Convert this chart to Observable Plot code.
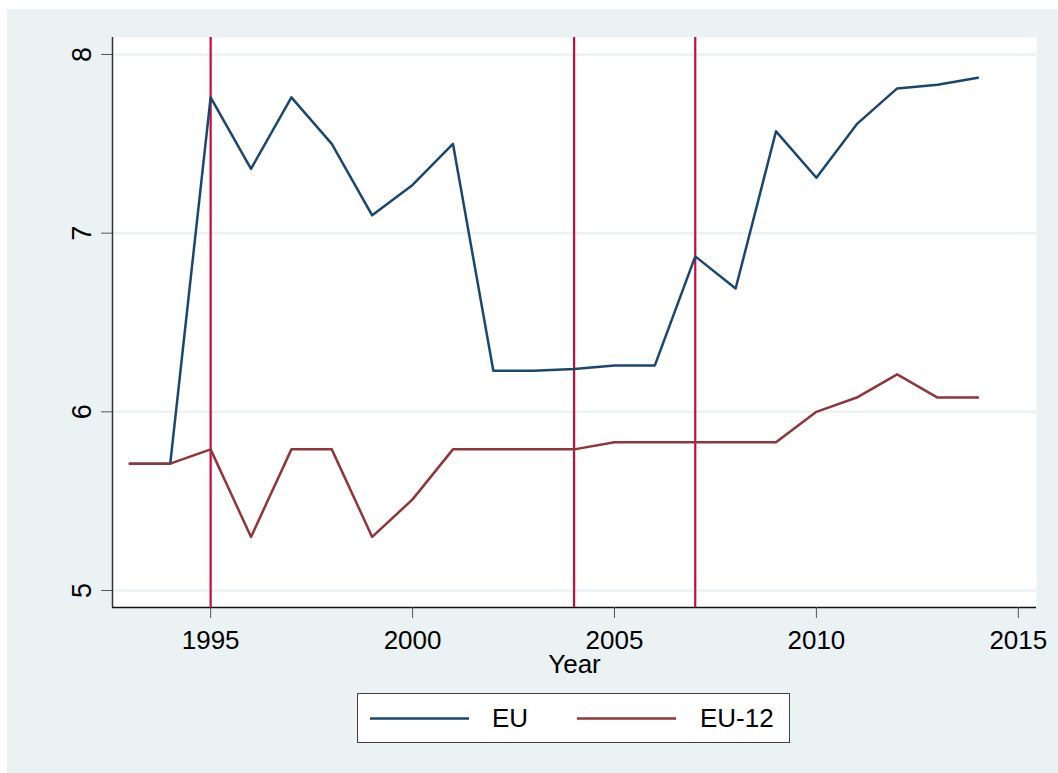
<!DOCTYPE html>
<html>
<head>
<meta charset="utf-8">
<script src="https://cdn.jsdelivr.net/npm/d3@7"></script>
<script src="https://cdn.jsdelivr.net/npm/@observablehq/plot@0.6"></script>
<style>
  html, body { margin: 0; padding: 0; background: #ffffff; }
  #wrap { position: relative; width: 1058px; height: 773px; overflow: hidden; }
  #bg { position: absolute; left: 7px; top: 9px; width: 1051px; height: 764px; background: #eaf2f3; }
  #chart { position: absolute; left: 0; top: 0; }
  #legend { position: absolute; left: 357px; top: 693px; width: 431px; height: 48px;
            background: #ffffff; border: 1.5px solid #404040; font-family: "Liberation Sans", Arial, sans-serif; font-size: 26px; color: #000; }
  #legend svg { position: absolute; left: 0; top: 0; }
  #legend span { position: absolute; top: 9px; line-height: 30px; }
</style>
</head>
<body>
<div id="wrap">
  <div id="bg"></div>
  <div id="chart"></div>
  <div id="legend"></div>
</div>
<script>
const years = [1993,1994,1995,1996,1997,1998,1999,2000,2001,2002,2003,2004,2005,2006,2007,2008,2009,2010,2011,2012,2013,2014];
const euValues = [5.71,5.71,7.76,7.36,7.76,7.50,7.10,7.27,7.50,6.23,6.23,6.24,6.26,6.26,6.87,6.69,7.57,7.31,7.61,7.81,7.83,7.87];
const eu12Values = [5.71,5.71,5.79,5.30,5.79,5.79,5.30,5.51,5.79,5.79,5.79,5.79,5.83,5.83,5.83,5.83,5.83,6.00,6.08,6.21,6.08,6.08];
const seriesNames = ["EU", "EU-12"];
const seriesColors = ["#1a476f", "#90353b"];
const eventYears = [1995, 2004, 2007];
const xTicks = [1995, 2000, 2005, 2010, 2015];
const yTicks = [5, 6, 7, 8];
const xLabel = "Year";

const xDomain = [1992.57, 2015.45];
const yDomain = [4.905, 8.095];

const rows = [];
years.forEach((y, i) => {
  rows.push({year: y, value: euValues[i], series: seriesNames[0]});
  rows.push({year: y, value: eu12Values[i], series: seriesNames[1]});
});

const font = "'Liberation Sans', Arial, sans-serif";

const chart = Plot.plot({
  width: 1058,
  height: 773,
  marginLeft: 112,
  marginTop: 37,
  marginRight: 22,
  marginBottom: 166,
  style: { background: "transparent", fontFamily: font, fontSize: "26px", color: "#000" },
  x: { domain: xDomain, label: null },
  y: { domain: yDomain, label: null },
  color: { domain: seriesNames, range: seriesColors },
  marks: [
    Plot.frame({ fill: "#ffffff", stroke: null }),
    Plot.gridY(yTicks, { stroke: "#eaf2f3", strokeOpacity: 1, strokeWidth: 2.5 }),
    Plot.ruleX([xDomain[0]], { stroke: "#333333", strokeWidth: 1.5 }),
    Plot.ruleY([yDomain[0]], { stroke: "#111111", strokeWidth: 1.5 }),
    Plot.axisX({ ticks: xTicks, tickSize: 11, tickPadding: 12, tickFormat: d => String(d), stroke: "#555", fontSize: 26, fill: "#000", label: null }),
    Plot.axisY({ ticks: yTicks, tickSize: 11, tickFormat: () => "", stroke: "#555", label: null }),
    Plot.text(yTicks, { x: xDomain[0], y: d => d, text: d => String(d), rotate: -90, dx: -22, textAnchor: "middle", lineAnchor: "bottom", fontSize: 27, fill: "#000", clip: false }),
    Plot.text([xLabel], { frameAnchor: "bottom", dy: 57, lineAnchor: "middle", fontSize: 26, fill: "#000" }),
    Plot.ruleX(eventYears, { stroke: "#cc0a3a", strokeWidth: 2.2 }),
    Plot.line(rows, { x: "year", y: "value", z: "series", stroke: "series", strokeWidth: 2.5 })
  ]
});
document.getElementById("chart").appendChild(chart);

// legend
const legend = document.getElementById("legend");
const ns = "http://www.w3.org/2000/svg";
const lsvg = document.createElementNS(ns, "svg");
lsvg.setAttribute("width", 431);
lsvg.setAttribute("height", 48);
const lineStarts = [12, 219];
const textStarts = [134, 342];
seriesNames.forEach((name, i) => {
  const l = document.createElementNS(ns, "line");
  l.setAttribute("x1", lineStarts[i]);
  l.setAttribute("x2", lineStarts[i] + 99);
  l.setAttribute("y1", 24.5);
  l.setAttribute("y2", 24.5);
  l.setAttribute("stroke", seriesColors[i]);
  l.setAttribute("stroke-width", 2.4);
  lsvg.appendChild(l);
  const s = document.createElement("span");
  s.textContent = name;
  s.style.left = textStarts[i] + "px";
  legend.appendChild(s);
});
legend.insertBefore(lsvg, legend.firstChild);
</script>
</body>
</html>
